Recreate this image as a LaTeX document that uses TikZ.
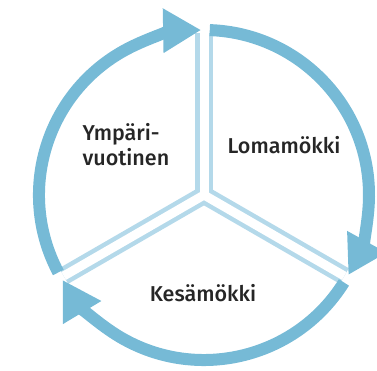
\documentclass[tikz,border=0pt]{standalone}
\usepackage{fontspec}
\setmainfont{Fira Sans}
\newfontfamily\labelfont{Fira Sans Medium}
\usetikzlibrary{arrows.meta,calc}
\definecolor{cyclecolor}{RGB}{118,186,214}
\definecolor{splitcolor}{RGB}{180,217,234}
\newcommand{\radius}{165}
\newcommand{\ringwidth}{12}
\newcommand{\splitwidth}{18}
\newcommand{\gapwidth}{9}

\begin{document}
\begin{tikzpicture}[x=1pt,y=1pt,
  cycle/.style={draw=cyclecolor, line width=\ringwidth pt,
    -{Triangle[length=38pt, width=42pt]}, cyclecolor},
  label/.style={font=\labelfont\fontsize{21.5}{25}\selectfont, text=black!85}]
\useasboundingbox (0,0) rectangle (377,371);
\coordinate (c) at (204,176);
\coordinate (t) at ($(c)+(90:162)$);
\coordinate (r) at ($(c)+(-30:162)$);
\coordinate (l) at ($(c)+(210:162)$);
%dividers
\fill[splitcolor] (c) circle (\splitwidth pt/2);
\draw[splitcolor, line width=\splitwidth pt] (c) -- (t);
\draw[splitcolor, line width=\splitwidth pt] (c) -- (r);
\draw[splitcolor, line width=\splitwidth pt] (c) -- (l);
\draw[white, line width=\gapwidth pt] (c) -- (t);
\draw[white, line width=\gapwidth pt] (c) -- (r);
\draw[white, line width=\gapwidth pt] (c) -- (l);
\fill[white] (c) circle (\gapwidth pt/2);
%arrows
\draw[cycle] ($(c)+(88:\radius)$) arc[start angle=88, end angle=-29, radius=\radius];
\draw[cycle] ($(c)+(-32:\radius)$) arc[start angle=-32, end angle=-149, radius=\radius];
\draw[cycle] ($(c)+(208:\radius)$) arc[start angle=208, end angle=91, radius=\radius];
%labels
\node[label] (loma) at (284,226) {Lomamökki};
\node[label, align=left, anchor=west] (ymp) at (79,226) {Ympäri-\\vuotinen};
\node[label] (kesa) at (203,78) {Kesämökki};
\end{tikzpicture}
\end{document}
